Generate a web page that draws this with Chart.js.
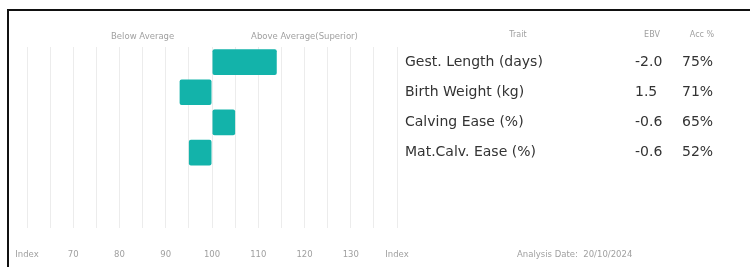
<!DOCTYPE html>
<html>
<head>
<meta charset="utf-8">
<script src="https://cdn.jsdelivr.net/npm/chart.js@4/dist/chart.umd.min.js"></script>
<style>
  body { margin: 0; background: #fff; overflow: hidden; }
  .frame { position: absolute; left: 7px; top: 9px; width: 800px; height: 300px; border-left: 2px solid #111; border-top: 2px solid #111; }
  .wrap { position: absolute; left: 0; top: 0; width: 750px; height: 267px; }
</style>
</head>
<body>
<div class="frame"></div>
<div class="wrap"><canvas id="myChart" width="750" height="267"></canvas></div>
<script>
// traits shown on the right, two empty rows keep the bars in the top part
var traits = ["Gest. Length (days)", "Birth Weight (kg)", "Calving Ease (%)", "Mat.Calv. Ease (%)", "", ""];
var indexValues = [114, 93, 105, 95, null, null];
var ebv = ["-2.0", "1.5", "-0.6", "-0.6"];
var acc = ["75%", "71%", "65%", "52%"];
var baseIndex = 100;
var analysisDate = "20/10/2024";

var fontName = "'DejaVu Sans', sans-serif";

//plugin to draw the table columns and the small captions
var tableText = {
    id: 'tableText',
    afterDraw: function(chart) {
        var ctx = chart.ctx;
        var y = chart.scales.y;
        var x = chart.scales.x;
        ctx.save();
        ctx.textBaseline = 'middle';

        ctx.fillStyle = '#333';
        ctx.font = '14px ' + fontName;
        ctx.textAlign = 'left';
        for (var i = 0; i < ebv.length; i++) {
            var py = y.getPixelForValue(i);
            ctx.fillText(ebv[i], 635, py);
            ctx.fillText(acc[i], 682, py);
        }

        ctx.fillStyle = '#a0a0a0';
        ctx.font = '8px ' + fontName;
        ctx.textAlign = 'center';
        ctx.fillText('Trait', 518, 35);
        ctx.fillText('EBV', 652, 35);
        ctx.fillText('Acc %', 702, 35);

        ctx.font = '8.5px ' + fontName;
        ctx.fillText('Below Average', x.getPixelForValue(85), 37);
        ctx.fillText('Above Average(Superior)', x.getPixelForValue(120), 37);

        ctx.textAlign = 'left';
        ctx.fillText('Analysis Date:  ' + analysisDate, 517, 255);
        ctx.restore();
    }
};

let myChart;

function initializeChart() {
    const ctx = document.getElementById('myChart').getContext('2d');
    myChart = new Chart(ctx, {
        type: 'bar',
        data: {
            labels: traits,
            datasets: [{
                data: indexValues,
                base: baseIndex,
                backgroundColor: '#13b3aa',
                borderRadius: 2,
                borderSkipped: false,
                barPercentage: 0.85,
                categoryPercentage: 1
            }]
        },
        options: {
            indexAxis: 'y',
            responsive: false,
            animation: false,
            layout: { padding: { left: 27, top: 47, right: 0, bottom: 0 } },
            plugins: {
                legend: { display: false },
                tooltip: { enabled: false }
            },
            scales: {
                x: {
                    min: 60,
                    max: 140,
                    grid: { color: '#ececec', drawTicks: false },
                    border: { display: false },
                    afterFit: function(scale) { scale.height = 39; scale.paddingLeft = 0; scale.paddingRight = 0; },
                    ticks: {
                        stepSize: 5,
                        autoSkip: false,
                        maxRotation: 0,
                        padding: 22,
                        color: '#a0a0a0',
                        font: { size: 8.5, family: fontName },
                        callback: function(value) {
                            if (value === 60 || value === 140) return 'Index';
                            if (value % 10 === 0) return value;
                            return '';
                        }
                    }
                },
                y: {
                    position: 'right',
                    grid: { display: false, drawTicks: false },
                    border: { display: false },
                    afterFit: function(scale) { scale.width = 353; },
                    ticks: {
                        padding: 8,
                        color: '#333',
                        font: { size: 14, family: fontName }
                    }
                }
            }
        },
        plugins: [tableText]
    });
}

initializeChart();
</script>
</body>
</html>
